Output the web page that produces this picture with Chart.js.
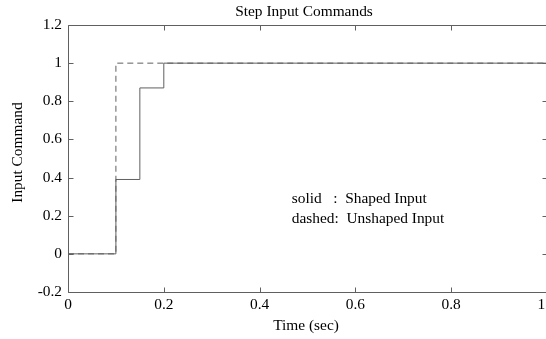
<!DOCTYPE html>
<html>
<head>
<meta charset="utf-8">
<script src="https://cdn.jsdelivr.net/npm/chart.js@4.4.1/dist/chart.umd.min.js"></script>
<style>
  html, body { margin: 0; padding: 0; background: #fff; overflow: hidden; }
  #wrap { width: 560px; height: 339px; }
</style>
</head>
<body>
<div id="wrap"><canvas id="chart"></canvas></div>
<script>
// shaped (solid) command: value held from each time until the next
const shapedTime = [0, 0.1, 0.15, 0.2, 1];
const shapedValue = [0, 0.39, 0.87, 1, 1];
// unshaped (dashed) step
const unshapedTime = [0, 0.1, 1];
const unshapedValue = [0, 1, 1];

const xTicks = [0, 0.2, 0.4, 0.6, 0.8, 1];
const yTicks = [-0.2, 0, 0.2, 0.4, 0.6, 0.8, 1, 1.2];

const noteLines = ['solid   :  Shaped Input', 'dashed:  Unshaped Input'];
const noteX = 0.467;
const noteY = [0.29, 0.185];

const font = { family: 'Liberation Serif', size: 15.4 };
const grey = '#606060';

const toPoints = (xs, ys) => xs.map((x, i) => ({ x: x, y: ys[i] }));

// MATLAB style box with inward ticks, titles and note text
const boxPlugin = {
  id: 'box',
  afterDraw(chart) {
    const ctx = chart.ctx;
    const a = chart.chartArea;
    const xs = chart.scales.x, ys = chart.scales.y;
    const len = 5;
    ctx.save();
    ctx.strokeStyle = grey;
    ctx.lineWidth = 1;
    ctx.beginPath();
    const l = Math.round(a.left) + 0.5, r = Math.round(a.right) + 0.5;
    const t = Math.round(a.top) + 0.5, b = Math.round(a.bottom) + 0.5;
    ctx.rect(l, t, r - l, b - t);
    xTicks.forEach(v => {
      const px = Math.round(xs.getPixelForValue(v)) + 0.5;
      ctx.moveTo(px, b); ctx.lineTo(px, b - len);
      ctx.moveTo(px, t); ctx.lineTo(px, t + len);
    });
    yTicks.forEach(v => {
      const py = Math.round(ys.getPixelForValue(v)) + 0.5;
      ctx.moveTo(l, py); ctx.lineTo(l + len, py);
      ctx.moveTo(r, py); ctx.lineTo(r - len, py);
    });
    ctx.stroke();

    ctx.fillStyle = '#000';
    ctx.font = font.size + 'px ' + font.family;
    ctx.textAlign = 'center';
    ctx.textBaseline = 'middle';
    ctx.fillText('Step Input Commands', 304, 12);
    ctx.fillText('Time (sec)', 306, 326);
    ctx.save();
    ctx.translate(18, 152.5);
    ctx.rotate(-Math.PI / 2);
    ctx.fillText('Input Command', 0, 0);
    ctx.restore();

    ctx.textAlign = 'left';
    noteLines.forEach((s, i) => {
      ctx.fillText(s, xs.getPixelForValue(noteX), ys.getPixelForValue(noteY[i]));
    });
    ctx.restore();
  }
};

new Chart(document.getElementById('chart'), {
  type: 'line',
  data: {
    datasets: [
      {
        label: 'Unshaped Input',
        data: toPoints(unshapedTime, unshapedValue),
        stepped: true,
        borderColor: grey,
        borderWidth: 1,
        borderDash: [6, 4],
        pointRadius: 0
      },
      {
        label: 'Shaped Input',
        data: toPoints(shapedTime, shapedValue),
        stepped: true,
        borderColor: grey,
        borderWidth: 1,
        pointRadius: 0
      }
    ]
  },
  options: {
    responsive: true,
    maintainAspectRatio: false,
    animation: false,
    layout: { padding: { top: 25, right: 13, left: 0, bottom: 0 } },
    plugins: { legend: { display: false }, tooltip: { enabled: false } },
    scales: {
      x: {
        type: 'linear',
        min: 0,
        max: 1,
        afterBuildTicks: s => { s.ticks = xTicks.map(v => ({ value: v })); },
        afterFit: s => { s.height = 47; s.paddingLeft = 0; s.paddingRight = 0; },
        grid: { display: false, drawTicks: false },
        border: { display: false },
        ticks: { color: '#000', font: font, padding: 4, maxRotation: 0 }
      },
      y: {
        min: -0.2,
        max: 1.2,
        afterBuildTicks: s => { s.ticks = yTicks.map(v => ({ value: v })); },
        afterFit: s => { s.width = 68; s.paddingTop = 0; s.paddingBottom = 0; },
        grid: { display: false, drawTicks: false },
        border: { display: false },
        ticks: { color: '#000', font: font, padding: 6, callback: v => String(Math.round(v * 10) / 10) }
      }
    }
  },
  plugins: [boxPlugin]
});
</script>
</body>
</html>
